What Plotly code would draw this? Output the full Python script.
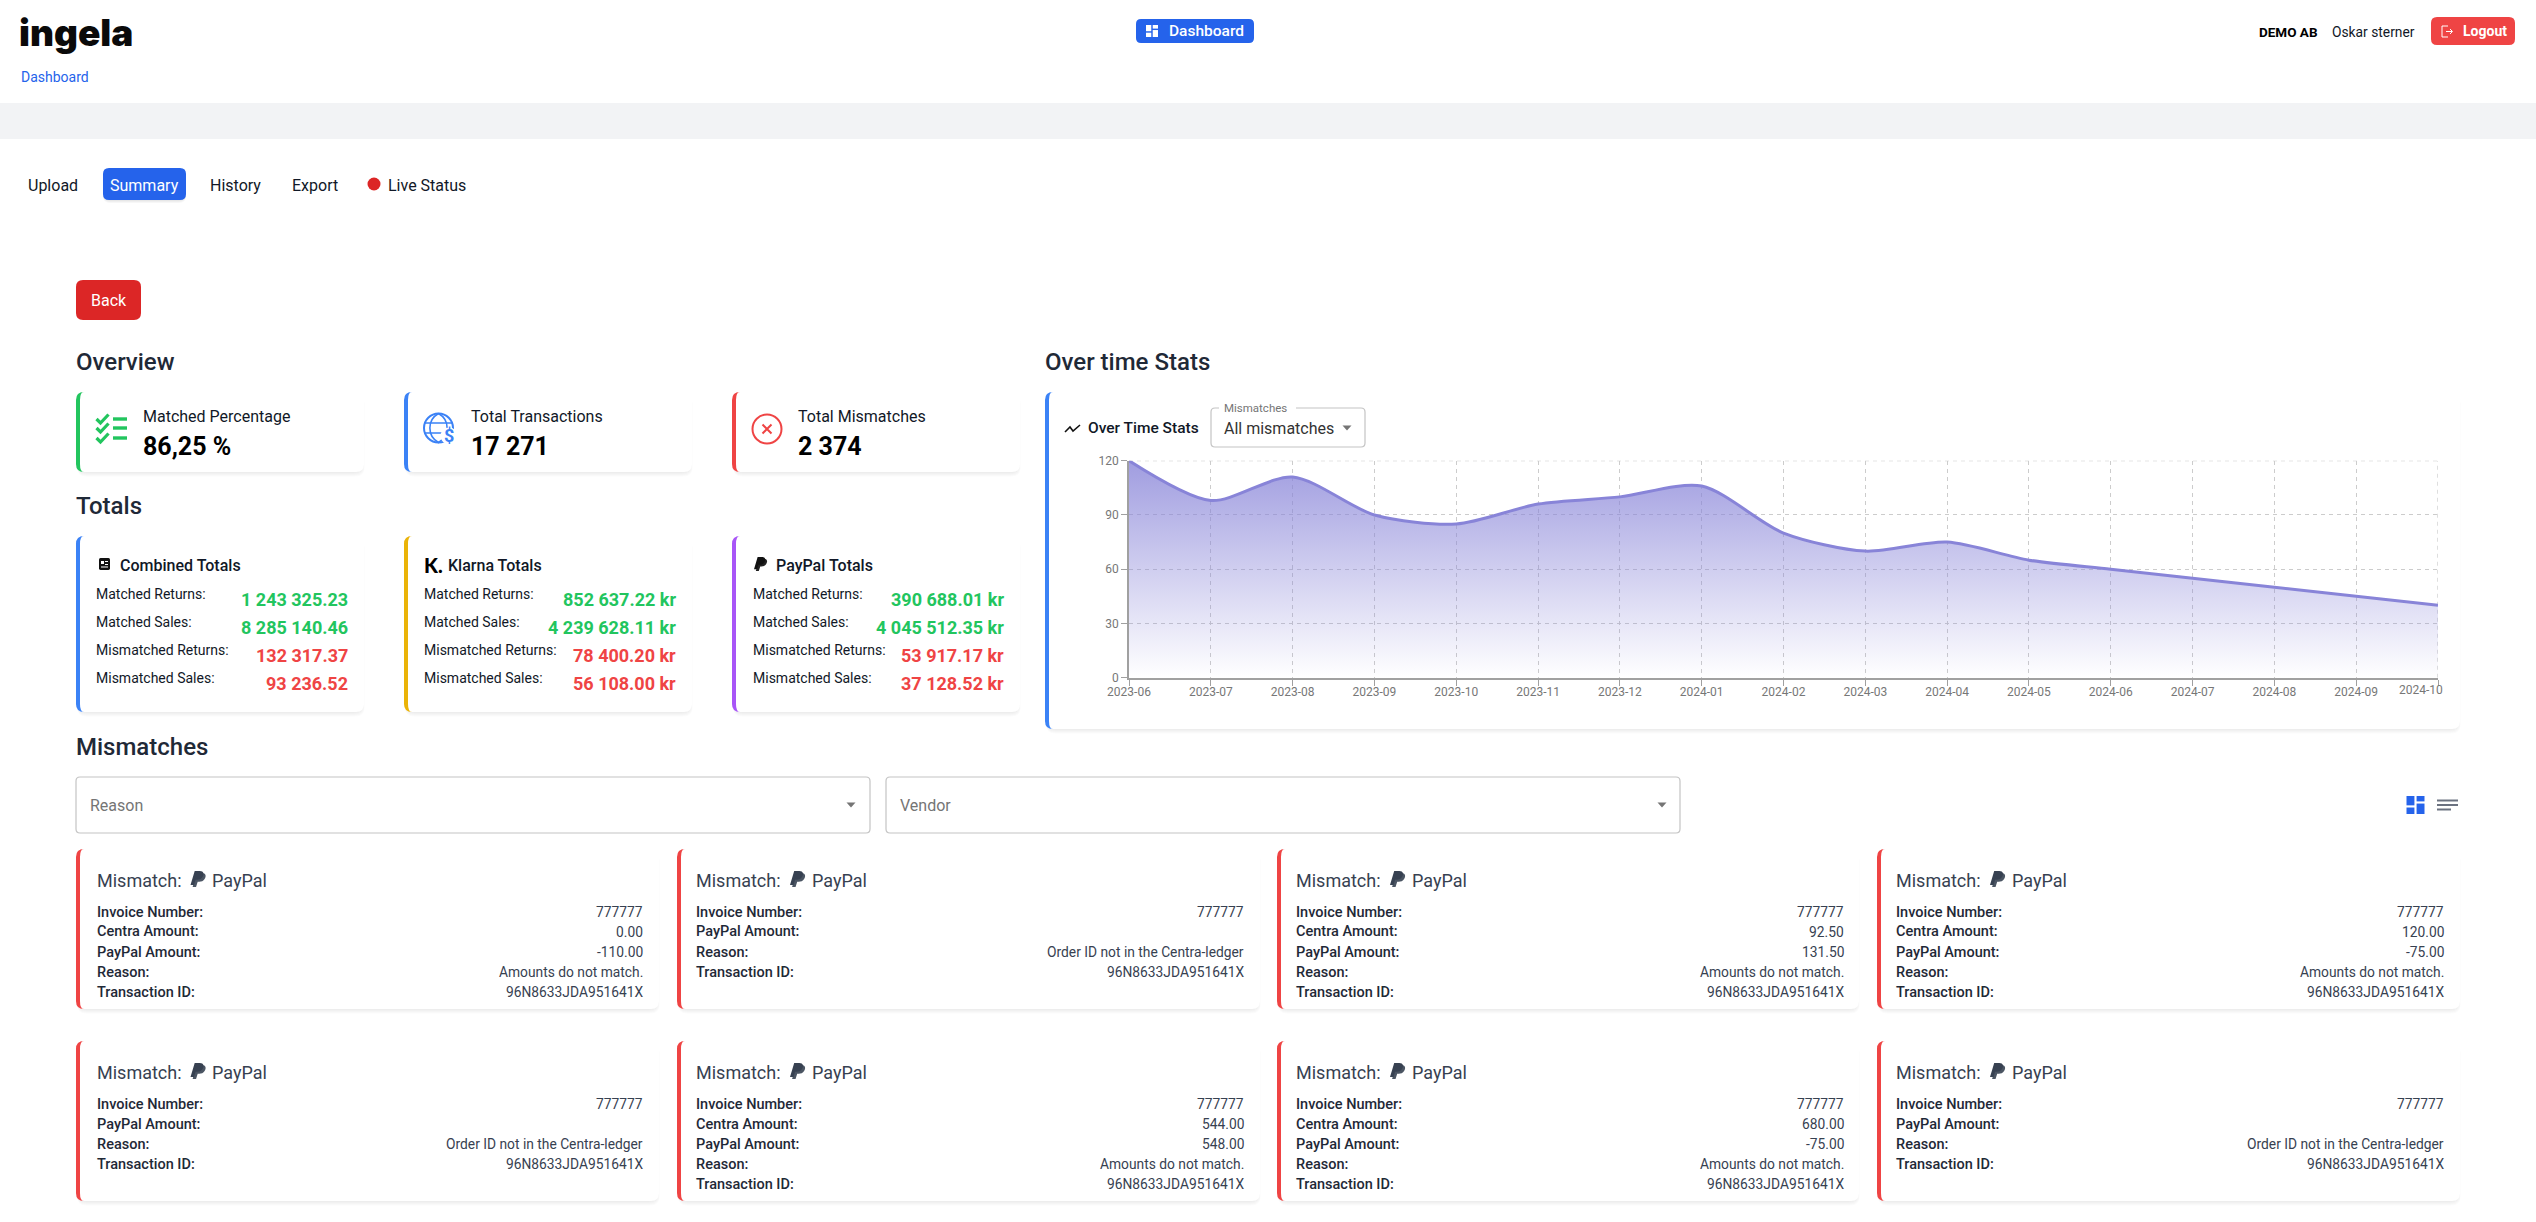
# Ingela dashboard: summary page with the "Over time Stats" area chart
import plotly.graph_objects as go

W = 2536
H = 1222
FONT = 'Roboto'

# Over time chart
MONTHS = ['2023-06', '2023-07', '2023-08', '2023-09', '2023-10', '2023-11', '2023-12', '2024-01', '2024-02',
          '2024-03', '2024-04', '2024-05', '2024-06', '2024-07', '2024-08', '2024-09', '2024-10']
MISMATCH_COUNTS = [120, 98, 111, 90, 85, 96, 100, 106, 80, 70, 75, 65, 60, 55, 50, 45, 40]
Y_TICKS = [0, 30, 60, 90, 120]

# Overview cards
OVERVIEW_LABELS = ['Matched Percentage', 'Total Transactions', 'Total Mismatches']
OVERVIEW_VALUES = ['86,25 %', '17 271', '2 374']

# Totals cards
TOTAL_ROWS = ['Matched Returns:', 'Matched Sales:', 'Mismatched Returns:', 'Mismatched Sales:']
COMBINED_TOTALS = ['1 243 325.23', '8 285 140.46', '132 317.37', '93 236.52']
KLARNA_TOTALS = ['852 637.22 kr', '4 239 628.11 kr', '78 400.20 kr', '56 108.00 kr']
PAYPAL_TOTALS = ['390 688.01 kr', '4 045 512.35 kr', '53 917.17 kr', '37 128.52 kr']

# Mismatch cards, None means the row is not on the card
INVOICE_NUMBERS = ['777777'] * 8
CENTRA_AMOUNTS = ['0.00', None, '92.50', '120.00', None, '544.00', '680.00', None]
PAYPAL_AMOUNTS = ['-110.00', '', '131.50', '-75.00', '', '548.00', '-75.00', '']
REASON_MATCH = 'Amounts do not match.'
REASON_LEDGER = 'Order ID not in the Centra-ledger'
REASONS = [REASON_MATCH, REASON_LEDGER, REASON_MATCH, REASON_MATCH,
           REASON_LEDGER, REASON_MATCH, REASON_MATCH, REASON_LEDGER]
TRANSACTION_IDS = ['96N8633JDA951641X'] * 8

BLUE = '#2563eb'
GREEN = '#22c55e'
RED = '#ef4444'
LINE_PURPLE = '#8884d8'
GRID = '#cccccc'
AXIS = '#a0a0a0'
TICK_TEXT = '#777777'

shapes = []
annotations = []


def px(x):
    return x / W


def py(y):
    return 1 - y / H


def pt(x, y):
    return f'{px(x):.6f},{py(y):.6f}'


def path(d, fill=None, line=None, width=0):
    # d is a list of (command, x, y, ...) in page pixels
    parts = []
    for seg in d:
        if seg[0] == 'Z':
            parts.append('Z')
            continue
        coords = seg[1:]
        pairs = [pt(coords[i], coords[i + 1]) for i in range(0, len(coords), 2)]
        parts.append(seg[0] + ' '.join(pairs))
    shapes.append(dict(type='path', xref='paper', yref='paper', layer='below', path=' '.join(parts),
                       fillcolor=fill or 'rgba(0,0,0,0)',
                       line=dict(color=line or 'rgba(0,0,0,0)', width=width)))


def rect(x0, y0, x1, y1, fill):
    shapes.append(dict(type='rect', xref='paper', yref='paper', layer='below',
                       x0=px(x0), x1=px(x1), y0=py(y0), y1=py(y1), fillcolor=fill, line=dict(width=0)))


def round_rect(x0, y0, x1, y1, r, fill=None, line=None, width=0):
    path([('M', x0 + r, y0), ('L', x1 - r, y0), ('Q', x1, y0, x1, y0 + r), ('L', x1, y1 - r),
          ('Q', x1, y1, x1 - r, y1), ('L', x0 + r, y1), ('Q', x0, y1, x0, y1 - r), ('L', x0, y0 + r),
          ('Q', x0, y0, x0 + r, y0), ('Z',)], fill, line, width)


def circle(cx, cy, r, fill=None, line=None, width=0):
    shapes.append(dict(type='circle', xref='paper', yref='paper', layer='below',
                       x0=px(cx - r), x1=px(cx + r), y0=py(cy - r), y1=py(cy + r),
                       fillcolor=fill or 'rgba(0,0,0,0)',
                       line=dict(color=line or 'rgba(0,0,0,0)', width=width)))


def text(x, y, s, size=14, color='#111827', anchor='left', weight=400, family=FONT):
    annotations.append(dict(xref='paper', yref='paper', x=px(x), y=py(y), text=s, showarrow=False,
                            xanchor=anchor, yanchor='middle', borderpad=0, borderwidth=0,
                            font=dict(family=family, size=size, color=color, weight=weight)))


def card(x0, y0, x1, y1, accent):
    # soft shadow under the card
    for i in range(5):
        round_rect(x0 + 1, y0 + 3, x1 - 1 + i * 0.4, y1 + i + 0.5, 9, fill='rgba(0,0,0,0.017)')
    round_rect(x0, y0, x1, y1, 8, fill='white')
    if accent:
        path([('M', x0 + 8, y0), ('Q', x0, y0, x0, y0 + 8), ('L', x0, y1 - 8), ('Q', x0, y1, x0 + 8, y1),
              ('Q', x0 + 4, y1, x0 + 4, y1 - 8), ('L', x0 + 4, y0 + 8), ('Q', x0 + 4, y0, x0 + 8, y0), ('Z',)],
             fill=accent)


def dash_icon(x0, y0, x1, y1, color):
    mx = (x0 + x1) / 2
    gap = (x1 - x0) * 0.06
    my_a = y0 + (y1 - y0) * 0.58
    my_b = y0 + (y1 - y0) * 0.36
    rect(x0, y0, mx - gap, my_a - gap, color)
    rect(x0, my_a + gap, mx - gap, y1, color)
    rect(mx + gap, y0, x1, my_b - gap, color)
    rect(mx + gap, my_b + gap, x1, y1, color)


def paypal_icon(x, y, w, h, dark, light):
    def p(ox, oy, color):
        path([('M', x + (0.28 + ox) * w, y + oy * h), ('L', x + (0.62 + ox) * w, y + oy * h),
              ('C', x + (0.90 + ox) * w, y + oy * h, x + (0.92 + ox) * w, y + (0.22 + oy) * h,
               x + (0.80 + ox) * w, y + (0.38 + oy) * h),
              ('C', x + (0.72 + ox) * w, y + (0.52 + oy) * h, x + (0.58 + ox) * w, y + (0.55 + oy) * h,
               x + (0.44 + ox) * w, y + (0.55 + oy) * h),
              ('L', x + (0.34 + ox) * w, y + (0.55 + oy) * h), ('L', x + (0.23 + ox) * w, y + (0.88 + oy) * h),
              ('L', x + ox * w, y + (0.88 + oy) * h), ('Z',)], fill=color)
    p(0.14, 0.12, light)
    p(0, 0, dark)


def select_box(x0, y0, x1, y1):
    round_rect(x0, y0, x1, y1, 4, fill='white', line='#c4c4c4', width=1.2)


def arrow_down(cx, cy):
    path([('M', cx - 4.5, cy - 2.5), ('L', cx + 4.5, cy - 2.5), ('L', cx, cy + 2.5), ('Z',)], fill='#757575')


# ---- top bar ----
text(19, 32, 'ingela', size=37, color='#0a0a0a', weight=900, family='Inter')
text(21, 77, 'Dashboard', size=14, color=BLUE)
round_rect(1136, 19, 1254, 43, 5, fill=BLUE)
dash_icon(1146, 25, 1158, 37, 'white')
text(1169, 31, 'Dashboard', size=15.5, color='white', weight=500)
text(2259, 32, 'DEMO AB', size=13.5, color='#000000', weight=700)
text(2332, 32, 'Oskar sterner', size=13.8, color='#111827')
round_rect(2431, 17, 2515, 45, 6, fill=RED)
path([('M', 2448, 26), ('L', 2442, 26), ('L', 2442, 37), ('L', 2448, 37)], line='white', width=1)
path([('M', 2446, 31.5), ('L', 2452, 31.5), ('M', 2450, 29), ('L', 2452.5, 31.5), ('L', 2450, 34)], line='white', width=1)
text(2463, 31, 'Logout', size=14, color='white', weight=700)
rect(0, 103, W, 139, '#f2f3f5')

# ---- tabs ----
text(28, 185, 'Upload', size=16)
for i in range(3):
    round_rect(103, 169 + i * 0.6, 186, 201 + i, 7, fill='rgba(0,0,0,0.03)')
round_rect(103, 168, 186, 200, 6, fill=BLUE)
text(144.5, 185, 'Summary', size=16, color='white', anchor='center')
text(235, 185, 'History', size=16, anchor='center')
text(315, 185, 'Export', size=16, anchor='center')
circle(374, 184, 6.5, fill='#dc2626')
text(388, 185, 'Live Status', size=16)
round_rect(76, 280, 141, 320, 7, fill='#dc2626')
text(108.5, 300, 'Back', size=16, color='white', anchor='center')

# ---- section headings ----
text(76, 362, 'Overview', size=24, color='#1f2937', weight=500)
text(76, 506, 'Totals', size=24, color='#1f2937', weight=500)
text(1045, 362, 'Over time Stats', size=24, color='#1f2937', weight=500)
text(76, 747, 'Mismatches', size=24, color='#1f2937', weight=500)

# ---- overview cards ----
CARD_X = [(76, 364), (404, 692), (732, 1020)]
for (x0, x1), color, label, value, tx in zip(CARD_X, [GREEN, '#3b82f6', RED], OVERVIEW_LABELS, OVERVIEW_VALUES,
                                             [142.5, 470.5, 798]):
    card(x0, 392, x1, 472, color)
    text(tx, 417, label, size=16)
    text(tx, 446, value, size=25, color='#000000', weight=700)

# checklist icon
for cy in [419, 428, 438]:
    path([('M', 96.5, cy), ('L', 100.5, cy + 4), ('L', 108.5, cy - 4.5)], line=GREEN, width=3.2)
    rect(113, cy - 1.7, 127, cy + 1.7, GREEN)

# globe icon
ICON_BLUE = '#3b82f6'
circle(438.5, 428, 14.5, line=ICON_BLUE, width=2)
path([('M', 438.5, 413.5), ('C', 427, 420, 427, 436, 438.5, 442.5), ('C', 450, 436, 450, 420, 438.5, 413.5)],
     line=ICON_BLUE, width=1.6)
path([('M', 425, 423), ('L', 452, 423), ('M', 425, 433), ('L', 445, 433)], line=ICON_BLUE, width=1.6)
circle(449, 436, 8.5, fill='white')
text(449, 436, '$', size=18, color=ICON_BLUE, anchor='center', weight=700)

# error icon
circle(767, 429, 14.5, line=RED, width=2)
path([('M', 762.5, 424.5), ('L', 771.5, 433.5), ('M', 771.5, 424.5), ('L', 762.5, 433.5)], line=RED, width=2)

# ---- totals cards ----
TOTAL_COLORS = ['#3b82f6', '#eab308', '#a855f7']
TITLE_X = [120, 448, 776]
LABEL_X = [96, 424, 752.5]
VALUE_X = [348, 676, 1004]
TOTAL_TITLES = ['Combined Totals', 'Klarna Totals', 'PayPal Totals']
for i, values in enumerate([COMBINED_TOTALS, KLARNA_TOTALS, PAYPAL_TOTALS]):
    x0, x1 = CARD_X[i]
    card(x0, 536, x1, 712, TOTAL_COLORS[i])
    text(TITLE_X[i], 565, TOTAL_TITLES[i], size=16, weight=500)
    for j, row in enumerate(TOTAL_ROWS):
        text(LABEL_X[i], 594 + j * 28, row, size=14)
        text(VALUE_X[i], 599 + j * 28, values[j], size=18, color=GREEN if j < 2 else RED, anchor='right', weight=700)

# combined totals icon
round_rect(99, 558, 110, 570, 1.5, fill='#111111')
rect(101, 561, 104, 564, 'white')
rect(105, 561, 108, 562, 'white')
rect(105, 564, 108, 565, 'white')
rect(101, 566.5, 108, 567.5, 'white')
# klarna mark
text(424, 565, 'K.', size=20, color='#000000', weight=900, family='Lato')
# paypal mark
paypal_icon(754, 557, 13, 14, '#111111', '#222222')

# ---- chart card ----
card(1045, 392, 2460, 729, '#3b82f6')
path([('M', 1065, 432), ('L', 1070, 427), ('L', 1073, 431), ('L', 1080, 425)], line='#111111', width=1.6)
text(1088, 428, 'Over Time Stats', size=15.5, weight=500)
select_box(1211, 408, 1365, 447)
rect(1219, 403, 1296, 412, 'white')
text(1224, 407.5, 'Mismatches', size=11.5, color='#757575')
text(1224, 428, 'All mismatches', size=16, color='#333333')
arrow_down(1347, 428)

# ---- mismatch filters ----
select_box(76, 777, 870, 833)
text(90, 805, 'Reason', size=16, color='#757575')
arrow_down(851, 805)
select_box(886, 777, 1680, 833)
text(900, 805, 'Vendor', size=16, color='#757575')
arrow_down(1662, 805)
dash_icon(2406.5, 796, 2424.5, 814, BLUE)
for ly in [800.5, 805, 809.5]:
    rect(2437, ly - 1, 2458 if ly < 809 else 2451, ly + 1, '#6b7280')

# ---- mismatch cards ----
MISMATCH_X = [(76, 659), (677, 1260), (1277, 1859), (1877, 2460)]
TEXT_X = [96.5, 696, 1296, 1896]
RIGHT_X = [643.5, 1244, 1844, 2443.5]
for n in range(8):
    col = n % 4
    row = n // 4
    y0 = 849 if row == 0 else 1041
    card(MISMATCH_X[col][0], y0, MISMATCH_X[col][1], y0 + 160, RED)
    tx = TEXT_X[col]
    rx = RIGHT_X[col]
    text(tx, y0 + 31, 'Mismatch:', size=18, color='#374151')
    paypal_icon(tx + 94, y0 + 22, 15, 16, '#374151', '#4b5563')
    text(tx + 115.5, y0 + 31, 'PayPal', size=18, color='#374151')
    rows = [('Invoice Number:', INVOICE_NUMBERS[n])]
    if CENTRA_AMOUNTS[n] is not None:
        rows.append(('Centra Amount:', CENTRA_AMOUNTS[n]))
    rows.append(('PayPal Amount:', PAYPAL_AMOUNTS[n]))
    rows.append(('Reason:', REASONS[n]))
    rows.append(('Transaction ID:', TRANSACTION_IDS[n]))
    for k, (label, value) in enumerate(rows):
        ry = y0 + 63 + k * 20
        text(tx, ry, label, size=14.5, color='#1f2937', weight=500)
        if value:
            text(rx, ry, value, size=13.8, color='#374151', anchor='right')

# ---- the chart itself ----
fig = go.Figure()
fig.add_trace(go.Scatter(x=MONTHS, y=MISMATCH_COUNTS, mode='lines', fill='tozeroy',
                         line=dict(color=LINE_PURPLE, width=3, shape='spline', smoothing=0.8),
                         fillgradient=dict(type='vertical', start=120, stop=0,
                                           colorscale=[[0, 'rgba(136,132,216,0.8)'], [1, 'rgba(136,132,216,0)']]),
                         cliponaxis=False, hoverinfo='skip', showlegend=False))

# plotly drops grid lines that sit on the plot edge, the reference has them
shapes.append(dict(type='line', xref='x', yref='y', layer='below', x0=MONTHS[0], x1=MONTHS[-1],
                   y0=Y_TICKS[-1], y1=Y_TICKS[-1], line=dict(color=GRID, width=1.3, dash='4px,4px')))
shapes.append(dict(type='line', xref='x', yref='y', layer='below', x0=MONTHS[-1], x1=MONTHS[-1],
                   y0=Y_TICKS[0], y1=Y_TICKS[-1], line=dict(color=GRID, width=1.3, dash='4px,4px')))

# the last month label sits left of its tick so it stays inside the card
annotations.append(dict(xref='x', yref='paper', x=MONTHS[-1], y=py(689.5), text=MONTHS[-1], showarrow=False,
                        xanchor='right', yanchor='middle', xshift=5, borderpad=0, borderwidth=0,
                        font=dict(family=FONT, size=12, color=TICK_TEXT)))

fig.update_layout(width=W, height=H, margin=dict(l=0, r=0, t=0, b=0, autoexpand=False), autosize=False,
                  paper_bgcolor='white', plot_bgcolor='rgba(0,0,0,0)',
                  shapes=shapes, annotations=annotations, font=dict(family=FONT))
fig.update_xaxes(domain=[px(1129), px(2438)], type='category', range=[0, len(MONTHS) - 1], automargin=False,
                 tickvals=MONTHS, ticktext=MONTHS[:-1] + [''], tickangle=0,
                 showgrid=True, gridcolor=GRID, griddash='4px,4px', gridwidth=1.3,
                 showline=True, linecolor=AXIS, linewidth=2, ticks='outside', ticklen=6, tickcolor=AXIS,
                 tickfont=dict(family=FONT, size=12, color=TICK_TEXT), ticklabelstandoff=-4, zeroline=False)
fig.update_yaxes(domain=[py(677.7), py(460.7)], range=[0, 120], tickvals=Y_TICKS, automargin=False,
                 showgrid=True, gridcolor=GRID, griddash='4px,4px', gridwidth=1.3,
                 showline=True, linecolor=AXIS, linewidth=1.5, ticks='outside', ticklen=6, tickcolor=AXIS,
                 tickfont=dict(family=FONT, size=12, color=TICK_TEXT), zeroline=False)

fig.write_html('out.html', config=dict(displayModeBar=False),
               post_script="document.body.style.margin='0';document.body.style.overflow='hidden';")
